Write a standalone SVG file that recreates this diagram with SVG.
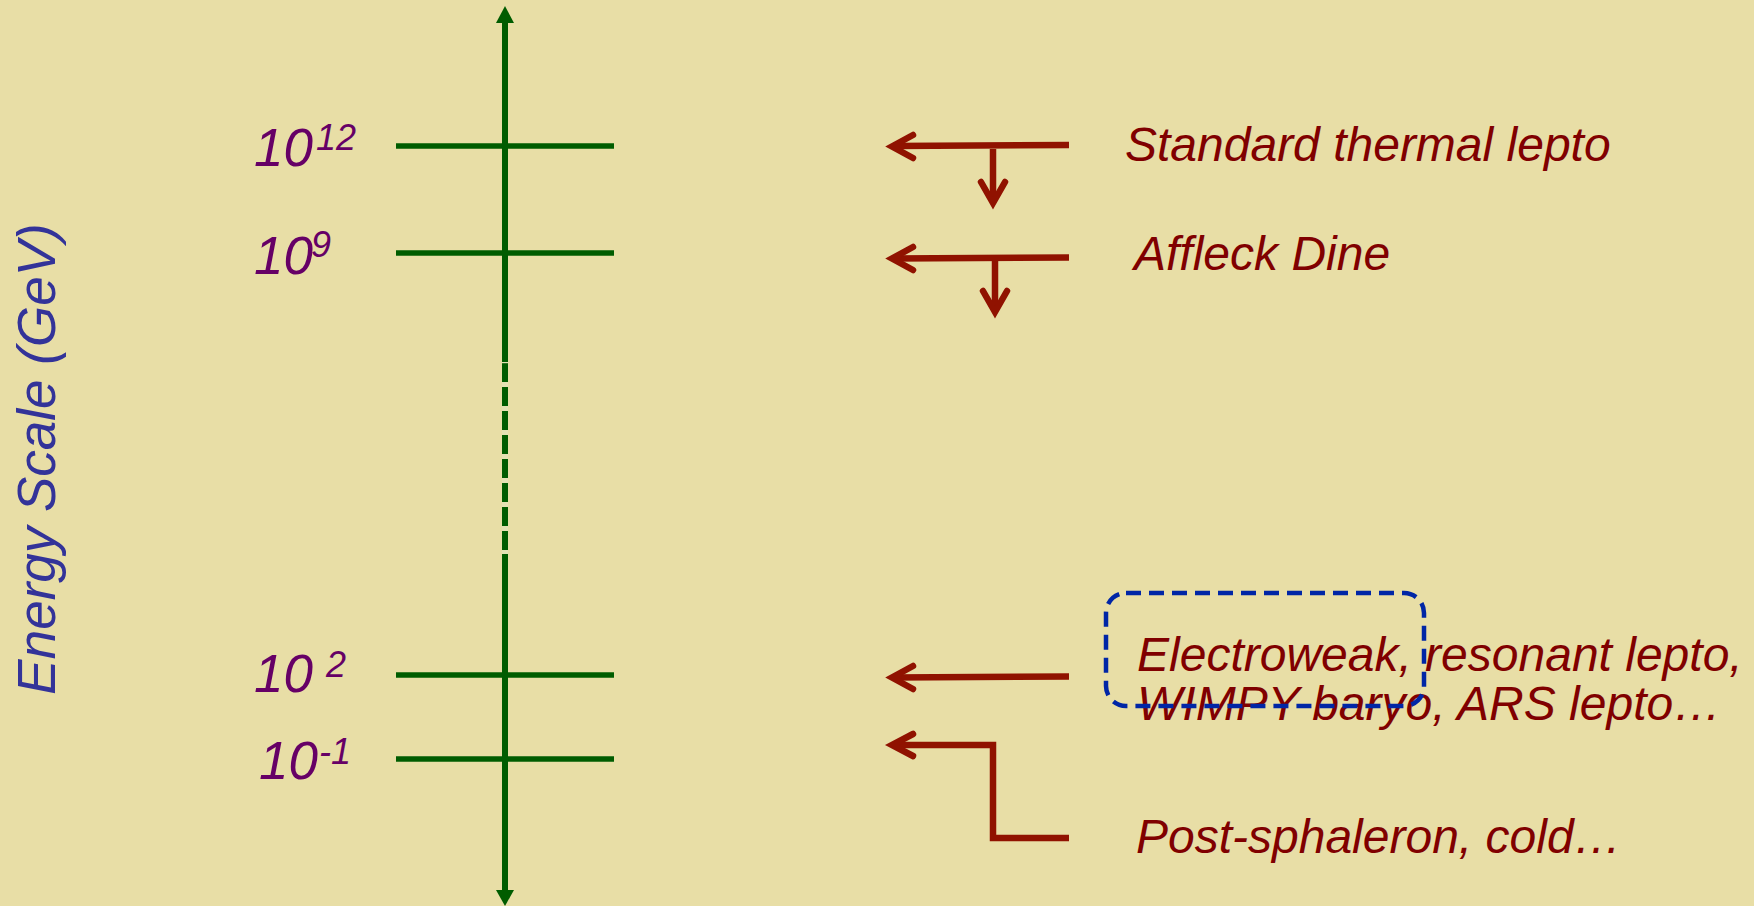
<svg xmlns="http://www.w3.org/2000/svg" width="1754" height="906" viewBox="0 0 1754 906">
  <style>
    .axis { stroke: #005c00; stroke-width: 6; fill: none; }
    .tick { stroke: #005c00; stroke-width: 5.5; fill: none; }
    .lbl { font-family: "Liberation Sans", Arial, sans-serif; font-style: italic; fill: #660066; font-size: 53px; }
    .sup { font-size: 36px; }
    .red { stroke: #901200; stroke-width: 6.5; fill: none; stroke-linecap: butt; }
    .head { stroke: #901200; stroke-width: 6.5; fill: none; stroke-linecap: round; stroke-linejoin: miter; }
    .txt { font-family: "Liberation Sans", Arial, sans-serif; font-style: italic; fill: #800000; font-size: 48px; }
    .ylab { font-family: "Liberation Sans", Arial, sans-serif; font-style: italic; fill: #333399; font-size: 53px; }
  </style>
  <rect x="0" y="0" width="1754" height="906" fill="#e8dea6"/>

  <g id="y-axis-label">
    <text class="ylab" transform="translate(55,459) rotate(-90)" text-anchor="middle" x="0" y="0">Energy Scale (GeV)</text>
  </g>

  <g id="axis">
    <line class="axis" x1="505" y1="22" x2="505" y2="891"/>
    <polygon points="505,6 496,23 514,23" fill="#005c00"/>
    <polygon points="505,906 496,890 514,890" fill="#005c00"/>
    <line x1="505" y1="382" x2="505" y2="554" stroke="#e4e2b4" stroke-width="6" stroke-dasharray="5 19"/>
    <line x1="505" y1="362" x2="505" y2="363.2" stroke="#e4e2b4" stroke-width="6"/>
  </g>

  <g id="tick-1e12">
    <line class="tick" x1="396" y1="146" x2="614" y2="146"/>
    <text class="lbl" x="254" y="166">10<tspan class="sup" x="316" y="150">12</tspan></text>
  </g>
  <g id="tick-1e9">
    <line class="tick" x1="396" y1="253" x2="614" y2="253"/>
    <text class="lbl" x="254" y="274">10<tspan class="sup" x="311" y="257">9</tspan></text>
  </g>
  <g id="tick-1e2">
    <line class="tick" x1="396" y1="675" x2="614" y2="675"/>
    <text class="lbl" x="254" y="692">10 <tspan class="sup" x="326" y="677">2</tspan></text>
  </g>
  <g id="tick-1e-1">
    <line class="tick" x1="396" y1="759" x2="614" y2="759"/>
    <text class="lbl" x="259" y="779">10<tspan class="sup" x="319" y="764">-1</tspan></text>
  </g>

  <g id="connectors">
    <line class="red" x1="893" y1="146" x2="1069" y2="145"/>
    <polyline class="head" points="913,135 892,146.5 913,158"/>
    <line class="red" x1="993" y1="149" x2="993" y2="202"/>
    <polyline class="head" points="981,182 993,203 1005,182"/>

    <line class="red" x1="893" y1="258.5" x2="1069" y2="257.5"/>
    <polyline class="head" points="913,247 892,258.5 913,270"/>
    <line class="red" x1="995" y1="260" x2="995" y2="310"/>
    <polyline class="head" points="983,291 995,312 1007,291"/>

    <line class="red" x1="893" y1="677.5" x2="1069" y2="676.5"/>
    <polyline class="head" points="913,666 892,677.5 913,689"/>

    <polyline class="red" points="893,745 993,745 993,838 1069,838" stroke-linejoin="miter"/>
    <polyline class="head" points="913,734 892,745 913,756"/>
  </g>

  <g id="standard-thermal">
    <text class="txt" x="1125" y="161">Standard thermal lepto</text>
  </g>
  <g id="affleck-dine">
    <text class="txt" x="1134" y="270">Affleck Dine</text>
  </g>
  <g id="electroweak">
    <text class="txt" x="1137" y="671">Electroweak, resonant lepto,</text>
    <text class="txt" x="1137" y="720">WIMPY baryo, ARS lepto…</text>
  </g>
  <g id="post-sphaleron">
    <text class="txt" x="1136" y="853">Post-sphaleron, cold…</text>
  </g>
  <g id="highlight-box">
    <rect x="1106" y="593" width="318" height="113" rx="20" ry="20" fill="none" stroke="#0026a6" stroke-width="4.5" stroke-dasharray="15 8"/>
  </g>
</svg>
